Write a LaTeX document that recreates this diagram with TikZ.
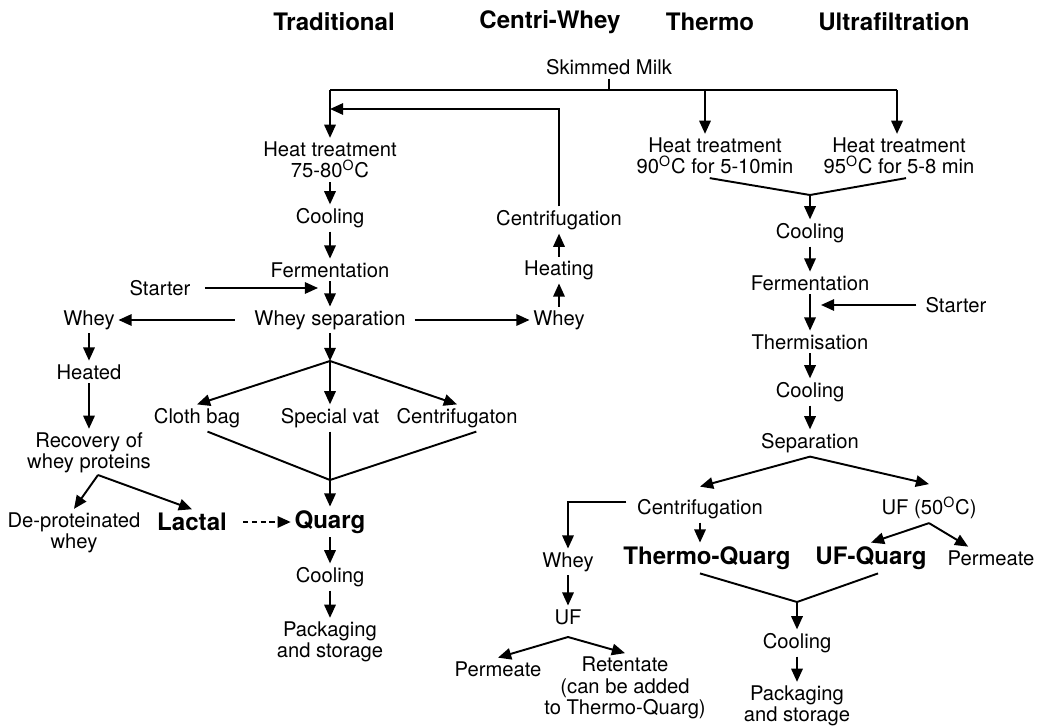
\documentclass[tikz,border=0pt]{standalone}
\usepackage{fontspec}
\setmainfont{TeX Gyre Heros}
\usetikzlibrary{arrows.meta}

\begin{document}
\begin{tikzpicture}[x=0.02cm, y=-0.02cm,
        font=\fontsize{11.5}{12.2}\selectfont,
        lbl/.style={align=center, inner sep=2pt},
        bigl/.style={font=\fontsize{13.7}{15}\selectfont\bfseries, inner sep=2pt},
        head/.style={font=\fontsize{13.7}{15}\selectfont\bfseries},
        arr/.style={-{Triangle[length=7.5pt,width=6.5pt]}, line width=1.1pt},
        ln/.style={line width=1.1pt},
        darr/.style={arr, dash pattern=on 3pt off 2pt}
    ]
        \useasboundingbox (0,0) rectangle (1043,726);

        % --- method headings ---
        \node[head] (hTrad) at (334,22) {Traditional};
        \node[head] (hCentri) at (550,22) {Centri-Whey};
        \node[head] (hThermo) at (710,22) {Thermo};
        \node[head] (hUF) at (894,22) {Ultrafiltration};

        % --- skimmed milk feed line ---
        \node[lbl] (milk) at (609,67) {Skimmed Milk};
        \coordinate (jMilk) at (609,90);
        \coordinate (jTrad) at (330,90);
        \coordinate (jThermo) at (705,90);
        \coordinate (jUF) at (897,90);
        \draw[ln] (milk.south) -- (jMilk);
        \draw[ln] (jTrad) -- (jUF);

        % --- traditional process ---
        \node[lbl] (htA) at (330,160) {Heat treatment\\75-80\textsuperscript{O}C};
        \node[lbl] (coolA) at (330,218) {Cooling};
        \node[lbl] (fermA) at (330,270) {Fermentation};
        \node[lbl] (wsep) at (330,320) {Whey separation};
        \node[lbl] (starterA) at (160,288) {Starter};
        \coordinate (jStartA) at (318,288);
        \draw[arr] (jTrad) -- (htA.north);
        \draw[arr] (htA) -- (coolA);
        \draw[arr] (coolA) -- (fermA);
        \draw[arr] (fermA) -- (wsep);
        \draw[arr] ([xshift=6pt]starterA.east) -- (jStartA);

        \node[lbl] (cloth) at (197,418) {Cloth bag};
        \node[lbl] (svat) at (330,418) {Special vat};
        \node[lbl] (cfugA) at (457,418) {Centrifugaton};
        \coordinate (jSplit) at (330,361);
        \coordinate (jQuarg) at (330,480);
        \draw[arr] (wsep) -- (jSplit);
        \draw[arr] (jSplit) -- (cloth.north);
        \draw[arr] (jSplit) -- (svat.north);
        \draw[arr] (jSplit) -- (cfugA.north);
        \draw[ln] ([xshift=6pt]cloth.south) -- (jQuarg);
        \draw[ln] (svat) -- (jQuarg);
        \draw[ln] ([xshift=11pt]cfugA.south) -- (jQuarg);

        \node[bigl] (quarg) at (330,522) {Quarg};
        \node[lbl] (coolQ) at (330,577) {Cooling};
        \node[lbl] (packA) at (330,642) {Packaging\\and storage};
        \draw[arr] (jQuarg) -- (quarg.north);
        \draw[arr] (quarg) -- (coolQ);
        \draw[arr] (coolQ) -- (packA);

        % --- whey side stream ---
        \node[lbl] (wheyL) at (89,320) {Whey};
        \node[lbl] (heated) at (89,372) {Heated};
        \node[lbl] (recov) at (89,453) {Recovery of\\whey proteins};
        \node[lbl] (deprot) at (74,533) {De-proteinated\\whey};
        \node[bigl] (lactal) at (192,522) {Lactal};
        \coordinate (jRec) at (98,475);
        \draw[arr] ([xshift=-9pt]wsep.west) -- (wheyL.east);
        \draw[arr] (wheyL) -- (heated);
        \draw[arr] (heated) -- (recov);
        \draw[arr] (jRec) -- (deprot.north);
        \draw[arr] (jRec) -- (lactal.north);
        \draw[darr] ([xshift=7pt]lactal.east) -- (quarg.west);

        % --- centri-whey loop ---
        \node[lbl] (wheyC) at (559,320) {Whey};
        \node[lbl] (heating) at (559,270) {Heating};
        \node[lbl] (cenW) at (559,220) {Centrifugation};
        \coordinate (jLoop) at (330,109);
        \draw[arr] ([xshift=3pt]wsep.east) -- (wheyC.west);
        \draw[arr] (wheyC) -- (heating);
        \draw[arr] (heating) -- (cenW);
        \draw[arr] (cenW.north) |- (jLoop);

        % --- thermo and ultrafiltration ---
        \node[lbl] (htT) at (715,156) {Heat treatment\\90\textsuperscript{O}C for 5-10min};
        \node[lbl] (htU) at (899,156) {Heat treatment\\95\textsuperscript{O}C for 5-8 min};
        \coordinate (jCoolT) at (810,195);
        \draw[arr] (jThermo) -- (jThermo |- htT.north);
        \draw[arr] (jUF) -- (jUF |- htU.north);
        \draw[ln] ([xshift=-3pt]htT.south) -- (jCoolT);
        \draw[ln] ([xshift=4pt]htU.south) -- (jCoolT);

        \node[lbl] (coolT) at (810,233) {Cooling};
        \node[lbl] (fermT) at (810,283) {Fermentation};
        \node[lbl] (thermis) at (810,342) {Thermisation};
        \node[lbl] (coolT2) at (810,392) {Cooling};
        \node[lbl] (sepT) at (810,443) {Separation};
        \node[lbl] (starterT) at (956,305) {Starter};
        \coordinate (jStartT) at (821,305);
        \draw[arr] (jCoolT) -- (coolT.north);
        \draw[arr] (coolT) -- (fermT);
        \draw[arr] (fermT) -- (thermis);
        \draw[arr] (thermis) -- (coolT2);
        \draw[arr] (coolT2) -- (sepT);
        \draw[arr] ([xshift=-3pt]starterT.west) -- (jStartT);

        \node[lbl] (cenT) at (700,509) {Centrifugation};
        \node[lbl] (ufT) at (929,508) {UF (50\textsuperscript{O}C)};
        \draw[arr] (sepT.south) -- ([yshift=5pt]cenT.north);
        \draw[arr] (sepT.south) -- ([yshift=5pt]ufT.north);

        \node[bigl] (tq) at (707,558) {Thermo-Quarg};
        \node[bigl] (ufq) at (871,558) {UF-Quarg};
        \node[lbl] (permR) at (991,558) {Permeate};
        \draw[arr] (cenT.south) -- (cenT.south |- tq.north);
        \draw[arr] (ufT.south) -- (ufq.north);
        \draw[arr] (ufT.south) -- ([xshift=-13pt]permR.north);

        \node[lbl] (wheyT) at (568,562) {Whey};
        \node[lbl] (ufW) at (568,617) {UF};
        \node[lbl] (permL) at (498,669) {Permeate};
        \node[lbl] (reten) at (625,688) {Retentate\\(can be added\\to Thermo-Quarg)};
        \coordinate (jUFW) at (568,637);
        \draw[arr] ([xshift=-4pt,yshift=4pt]cenT.west) -| (wheyT.north);
        \draw[arr] (wheyT) -- (ufW);
        \draw[arr] (jUFW) -- (permL.north);
        \draw[arr] (jUFW) -- (reten.north);

        \node[lbl] (coolB) at (797,643) {Cooling};
        \node[lbl] (packB) at (797,706) {Packaging\\and storage};
        \coordinate (jPackT) at (797,602);
        \draw[ln] ([xshift=-4pt]tq.south) -- (jPackT);
        \draw[ln] ([xshift=4pt]ufq.south) -- (jPackT);
        \draw[arr] (jPackT) -- (coolB.north);
        \draw[arr] (coolB) -- (packB);
    \end{tikzpicture}
\end{document}
